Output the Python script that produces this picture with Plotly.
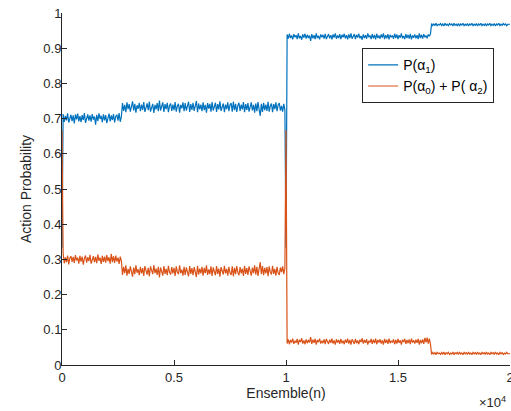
import numpy as np
import plotly.graph_objects as go

# sample index (ensemble), one reading every 50 samples
ensemble = np.arange(0, 20001, 50)

# P(alpha_1) in thousandths, segment by segment
blue_start = [333]
blue_seg1 = [713, 691, 708, 695, 715, 689, 704, 711, 693, 709,
             686, 712, 698, 714, 692, 707, 690, 710, 696, 716,
             688, 705, 712, 694, 709, 691, 713, 697, 706, 683,
             711, 693, 715, 699, 708, 690, 712, 695, 710, 687,
             707, 714, 692, 709, 696, 713, 689, 706, 711, 694,
             716, 691, 705]
blue_seg2 = [744, 722, 739, 718, 746, 727, 741, 720, 736, 749,
             723, 742, 717, 738, 728, 745, 721, 740, 725, 747,
             719, 737, 743, 724, 748, 720, 735, 742, 716, 739,
             726, 744, 721, 751, 723, 738, 746, 719, 741, 727,
             745, 718, 737, 743, 722, 740, 724, 747, 720, 736,
             742, 717, 739, 729, 746, 721, 744, 723, 738, 748,
             719, 741, 725, 745, 722, 737, 750, 718, 743, 726,
             740, 721, 746, 724, 739, 717, 744, 728, 742, 720,
             747, 723, 738, 745, 719, 741, 726, 749, 722, 737,
             743, 718, 740, 727, 746, 721, 739, 744, 720, 748,
             724, 742, 719, 737, 745, 722, 740, 726, 747, 718,
             741, 725, 744, 720, 738, 746, 723, 739, 717, 743,
             721, 747, 726, 708, 742, 719, 745, 724, 740, 722,
             748, 720, 737, 743, 718, 741, 727, 746, 721, 739,
             744, 723, 736, 720, 742, 725]
blue_reset = [333]
blue_seg3 = [939, 927, 941, 929, 936, 925, 940, 931, 937, 926,
             942, 928, 935, 924, 939, 930, 941, 927, 938, 929,
             936, 921, 940, 928, 937, 926, 942, 929, 935, 925,
             939, 931, 938, 927, 941, 926, 936, 940, 928, 937,
             925, 939, 930, 942, 927, 936, 929, 940, 926, 938,
             931, 941, 928, 937, 925, 939, 929, 942, 927, 936,
             940, 926, 938, 930, 941, 928, 935, 924, 939, 929,
             937, 927, 942, 931, 936, 926, 940, 928, 938, 925,
             941, 929, 936, 927, 939, 930, 942, 926, 937, 928,
             940, 925, 938, 931, 936, 927, 941, 929, 939, 926,
             937, 930, 942, 928, 935, 926, 940, 929, 938, 927,
             941, 925, 936, 930, 939, 928, 937, 926, 942, 929,
             938, 927, 940, 931, 936, 928, 939, 934, 941]
blue_seg4 = [970, 964, 969, 965, 971, 963, 968, 966, 970, 964,
             969, 963, 971, 965, 968, 964, 970, 966, 969, 963,
             971, 965, 968, 964, 970, 963, 969, 966, 971, 964,
             968, 965, 970, 963, 969, 966, 971, 964, 968, 965,
             970, 963, 969, 966, 971, 964, 968, 965, 970, 963,
             969, 966, 971, 964, 968, 965, 970, 963, 969, 966,
             971, 964, 968, 965, 970, 966, 969, 964, 968, 967,
             968]

# P(alpha_0) + P(alpha_2), thousandths
orange_start = [667]
orange_seg1 = [318, 289, 306, 292, 311, 286, 304, 309, 293, 307,
               290, 312, 297, 305, 288, 310, 294, 308, 285, 303,
               311, 291, 306, 295, 313, 288, 302, 309, 292, 307,
               289, 314, 296, 305, 287, 310, 293, 308, 291, 312,
               295, 306, 288, 316, 292, 309, 290, 311, 294, 305,
               287, 308, 296]
orange_seg2 = [256, 279, 261, 283, 254, 273, 259, 280, 264, 251,
               277, 258, 283, 262, 272, 255, 279, 260, 275, 253,
               281, 263, 257, 276, 252, 280, 265, 258, 284, 261,
               274, 256, 279, 249, 277, 262, 254, 281, 259, 273,
               255, 282, 263, 257, 278, 260, 276, 253, 280, 264,
               258, 283, 261, 271, 254, 279, 256, 277, 262, 252,
               281, 259, 275, 255, 278, 263, 250, 282, 257, 274,
               260, 279, 254, 276, 261, 283, 256, 272, 258, 280,
               253, 277, 262, 255, 281, 259, 274, 251, 278, 263,
               257, 282, 260, 273, 254, 279, 261, 256, 280, 252,
               276, 258, 281, 263, 255, 278, 260, 274, 253, 282,
               259, 275, 256, 280, 262, 254, 277, 261, 283, 257,
               279, 253, 274, 292, 258, 281, 255, 276, 260, 278,
               252, 280, 263, 257, 282, 259, 273, 254, 279, 261,
               256, 277, 264, 280, 258, 275]
orange_reset = [667]
orange_seg3 = [61, 73, 59, 71, 64, 75, 60, 69, 63, 74,
               58, 72, 65, 76, 61, 70, 59, 73, 62, 71,
               64, 79, 60, 72, 63, 74, 58, 71, 65, 75,
               61, 69, 62, 73, 59, 74, 64, 60, 72, 63,
               75, 61, 70, 58, 73, 64, 71, 60, 74, 62,
               69, 59, 72, 63, 75, 61, 71, 58, 73, 64,
               60, 74, 62, 70, 59, 72, 65, 76, 61, 71,
               63, 73, 58, 69, 64, 74, 60, 72, 62, 75,
               59, 71, 64, 73, 61, 70, 58, 74, 63, 72,
               60, 75, 62, 69, 64, 73, 59, 71, 61, 74,
               63, 70, 58, 72, 65, 74, 60, 71, 62, 73,
               59, 75, 64, 70, 61, 72, 63, 74, 58, 71,
               62, 73, 60, 77, 64, 78, 61, 75, 59]
orange_seg4 = [30, 36, 31, 35, 29, 37, 32, 34, 30, 36,
               31, 37, 29, 35, 32, 36, 30, 34, 31, 37,
               29, 35, 32, 36, 30, 37, 31, 34, 29, 36,
               32, 35, 30, 37, 31, 34, 29, 36, 32, 35,
               30, 37, 31, 34, 29, 36, 32, 35, 30, 37,
               31, 34, 29, 36, 32, 35, 30, 37, 31, 34,
               29, 36, 32, 35, 30, 34, 31, 36, 32, 33,
               32]

p_a1 = np.array(blue_start + blue_seg1 + blue_seg2 + blue_reset + blue_seg3 + blue_seg4) / 1000
p_a02 = np.array(orange_start + orange_seg1 + orange_seg2 + orange_reset + orange_seg3 + orange_seg4) / 1000

x_tickvals = [0, 5000, 10000, 15000, 20000]
x_ticktext = ["0", "0.5", "1", "1.5", "2"]
y_tickvals = [0, 0.1, 0.2, 0.3, 0.4, 0.5, 0.6, 0.7, 0.8, 0.9, 1]
y_ticktext = ["0", "0.1", "0.2", "0.3", "0.4", "0.5", "0.6", "0.7", "0.8", "0.9", "1"]

axcol = "#262626"
font = "Liberation Sans, Arial, sans-serif"

fig = go.Figure()
fig.add_trace(go.Scatter(x=ensemble, y=p_a1, mode="lines",
                         line=dict(color="#0072BD", width=1.2),
                         name="P(α<sub>1</sub>)"))
fig.add_trace(go.Scatter(x=ensemble, y=p_a02, mode="lines",
                         line=dict(color="#D95319", width=1.2),
                         name="P(α<sub>0</sub>) + P( α<sub>2</sub>)"))

fig.update_layout(
    width=511, height=411,
    margin=dict(l=62, r=1, t=13, b=46),
    paper_bgcolor="white", plot_bgcolor="white",
    font=dict(family=font, size=13, color=axcol),
    legend=dict(x=0.67, y=0.90, xanchor="left", yanchor="top",
                bgcolor="white", bordercolor=axcol, borderwidth=1,
                font=dict(size=14, color="black")),
    annotations=[dict(text="×10<sup>4</sup>", x=0.995, y=-0.105, xref="paper", yref="paper",
                      xanchor="right", yanchor="middle", showarrow=False,
                      font=dict(size=13, color=axcol))],
)
fig.update_xaxes(range=[0, 20000], tickvals=x_tickvals, ticktext=x_ticktext,
                 showgrid=False, zeroline=False, showline=True, linecolor=axcol,
                 linewidth=1, ticks="inside", ticklen=5, tickcolor=axcol,
                 automargin=False, ticklabeloverflow="allow",
                 title=dict(text="Ensemble(n)", font=dict(size=14), standoff=4))
fig.update_yaxes(range=[0, 1], tickvals=y_tickvals, ticktext=y_ticktext,
                 showgrid=False, zeroline=False, showline=True, linecolor=axcol,
                 linewidth=1, ticks="inside", ticklen=5, tickcolor=axcol,
                 automargin=False, ticklabelstandoff=-3,
                 title=dict(text="Action Probability", font=dict(size=14), standoff=8))

fig.write_html("out.html", config={"displayModeBar": False},
               post_script="document.body.style.margin='0';")
